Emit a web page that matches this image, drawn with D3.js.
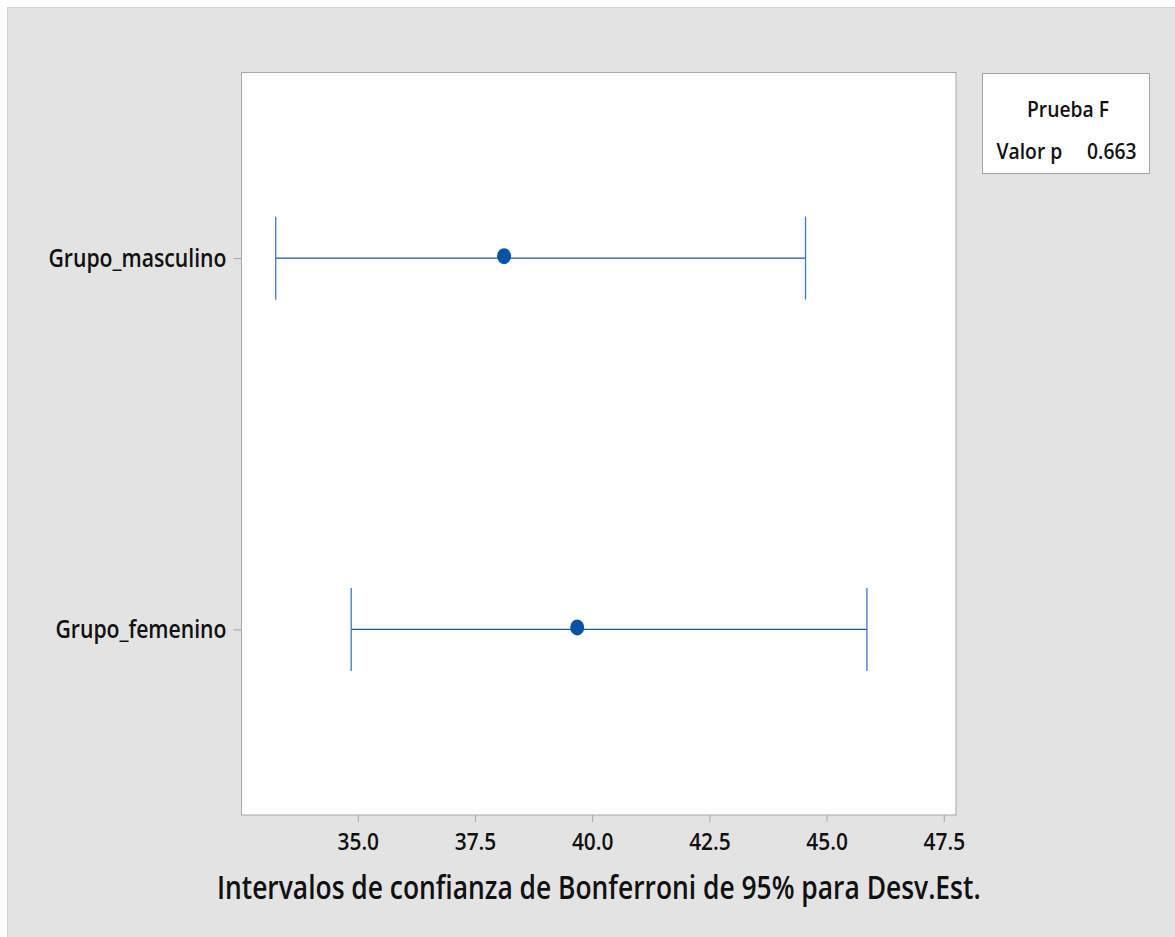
<!DOCTYPE html>
<html>
<head>
<meta charset="utf-8">
<script src="https://cdn.jsdelivr.net/npm/d3@7"></script>
<style>
  body { margin: 0; background: #fff; }
  text { font-family: "Open Sans", "Noto Sans", sans-serif; font-weight: 600; fill: #111; }
</style>
</head>
<body>
<div id="container"></div>
<script>
// intervals
const groups = ["Grupo_masculino", "Grupo_femenino"];
const lower = [33.25, 34.86];
const estimate = [38.12, 39.68];
const upper = [44.55, 45.86];
const xTicks = [35.0, 37.5, 40.0, 42.5, 45.0, 47.5];
const xTitle = "Intervalos de confianza de Bonferroni de 95% para Desv.Est.";
const testName = "Prueba F";
const pLabel = "Valor p";
const pValue = "0.663";

const width = 1175,
  height = 937;
const plot = { left: 241.5, top: 72.5, right: 956, bottom: 815 };
// the original font is narrower, squeeze horizontally
const sxTick = 0.87,
  sxLabel = 0.815,
  sxTitle = 0.8,
  sxLegend = 0.92;

const svg = d3
  .select("#container")
  .append("svg")
  .attr("width", width)
  .attr("height", height);

// gray panel
svg
  .append("rect")
  .attr("x", 7.5)
  .attr("y", 7.5)
  .attr("width", width)
  .attr("height", height)
  .attr("fill", "#e3e3e3")
  .attr("stroke", "#d3d3d3");

// plot area
svg
  .append("rect")
  .attr("x", plot.left)
  .attr("y", plot.top)
  .attr("width", plot.right - plot.left)
  .attr("height", plot.bottom - plot.top)
  .attr("fill", "#fff")
  .attr("stroke", "#a6a6a6");

const x = d3
  .scaleLinear()
  .domain([32.52, 47.76])
  .range([plot.left, plot.right]);

const y = d3
  .scalePoint()
  .domain(groups)
  .range([plot.top, plot.bottom])
  .padding(0.5);

const xAxis = d3
  .axisBottom(x)
  .tickValues(xTicks)
  .tickFormat(d3.format(".1f"))
  .tickSize(7)
  .tickSizeOuter(0)
  .tickPadding(11);

const gx = svg
  .append("g")
  .attr("transform", `translate(0, ${plot.bottom})`)
  .call(xAxis);
gx.select(".domain").remove();
gx.selectAll("line").attr("stroke", "#a6a6a6");
gx.selectAll("text")
  .attr("font-size", 24)
  .attr("font-family", null)
  .attr("fill", "#111")
  .attr("transform", `scale(${sxTick},1)`);

const yAxis = d3.axisLeft(y).tickSize(8).tickSizeOuter(0);

const gy = svg
  .append("g")
  .attr("transform", `translate(${plot.left}, 0)`)
  .call(yAxis);
gy.select(".domain").remove();
gy.selectAll("line").attr("stroke", "#a6a6a6");
gy.selectAll("text")
  .attr("font-size", 26)
  .attr("font-family", null)
  .attr("fill", "#111")
  .attr("x", 0)
  .attr("transform", `translate(-15,0) scale(${sxLabel},1)`);

// intervals
const rows = groups.map((g, i) => ({
  g,
  lo: lower[i],
  est: estimate[i],
  hi: upper[i],
}));

const capHalf = 41.5;

const iv = svg
  .selectAll(".interval")
  .data(rows)
  .enter()
  .append("g")
  .attr("class", "interval");

iv.append("line")
  .attr("x1", (d) => x(d.lo))
  .attr("x2", (d) => x(d.hi))
  .attr("y1", (d) => y(d.g))
  .attr("y2", (d) => y(d.g))
  .attr("stroke", "#1a56a0")
  .attr("stroke-width", 1.3);

iv.selectAll(".cap")
  .data((d) => [d.lo, d.hi].map((v) => ({ v, g: d.g })))
  .enter()
  .append("line")
  .attr("class", "cap")
  .attr("x1", (d) => x(d.v))
  .attr("x2", (d) => x(d.v))
  .attr("y1", (d) => y(d.g) - capHalf)
  .attr("y2", (d) => y(d.g) + capHalf)
  .attr("stroke", "#3a78c4")
  .attr("stroke-width", 1.3);

iv.append("ellipse")
  .attr("cx", (d) => x(d.est))
  .attr("cy", (d) => y(d.g) - 2)
  .attr("rx", 7)
  .attr("ry", 8)
  .attr("fill", "#0652a6");

// axis title
svg
  .append("text")
  .attr("transform", `translate(${(plot.left + plot.right) / 2}, 899) scale(${sxTitle},1)`)
  .attr("text-anchor", "middle")
  .attr("font-size", 33)
  .text(xTitle);

// legend box
const lg = svg.append("g").attr("transform", "translate(982.5, 73.5)");

lg.append("rect")
  .attr("width", 167)
  .attr("height", 100)
  .attr("fill", "#fff")
  .attr("stroke", "#a6a6a6");

lg.append("text")
  .attr("transform", `translate(85.5, 43) scale(${sxLegend},1)`)
  .attr("text-anchor", "middle")
  .attr("font-size", 21)
  .text(testName);

lg.append("text")
  .attr("transform", `translate(14, 85.5) scale(${sxLegend},1)`)
  .attr("font-size", 21)
  .text(pLabel);

lg.append("text")
  .attr("transform", `translate(154, 85.5) scale(${sxLegend},1)`)
  .attr("text-anchor", "end")
  .attr("font-size", 21)
  .text(pValue);
</script>
</body>
</html>
